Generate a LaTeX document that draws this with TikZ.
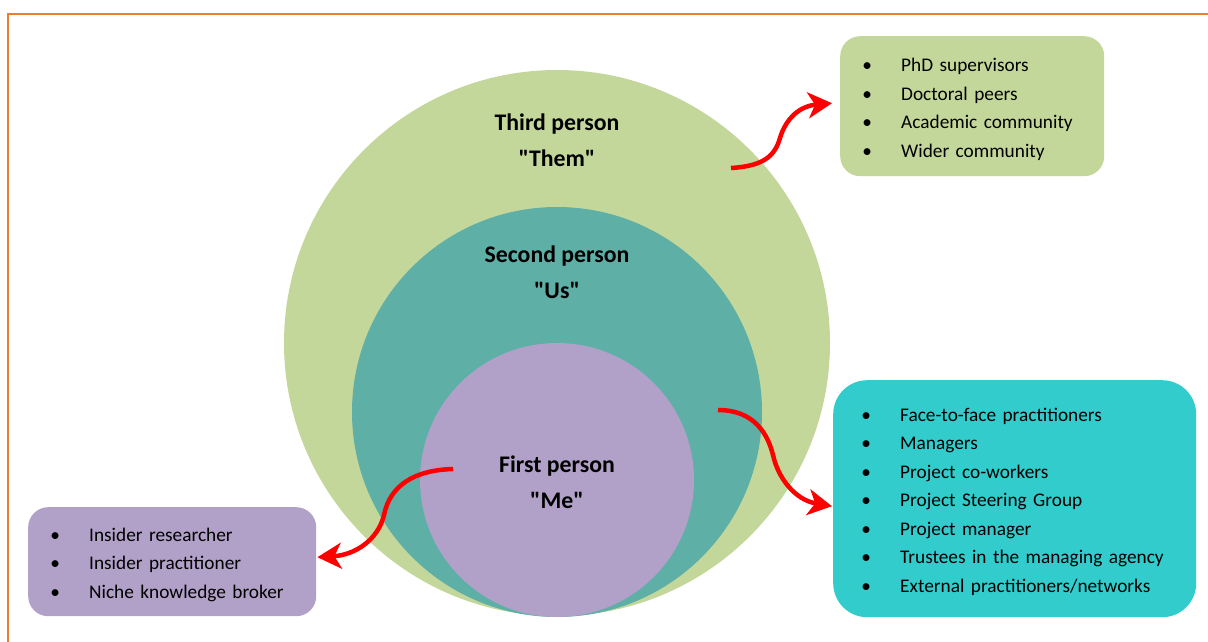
\documentclass[tikz,border=0pt]{standalone}
\usepackage{fontspec}
\setmainfont{Carlito}[Ligatures=TeXOff]
\usetikzlibrary{arrows.meta}

\definecolor{frameorange}{HTML}{ED7D31}
\definecolor{themgreen}{HTML}{C4D79B}
\definecolor{usteal}{HTML}{5EAFA6}
\definecolor{mepurple}{HTML}{B1A0C7}
\definecolor{listcyan}{HTML}{33CCCC}

% one bullet line of a list box
\newcommand{\listline}[2]{\hspace*{#1}\makebox[0pt]{\textbullet}\hspace{34pt}#2}
% extra room above the first line of a list
\newcommand{\listtop}{\rule{0pt}{19.5pt}}

\tikzset{
  ring/.style={circle, draw=none, inner sep=0pt},
  ringtitle/.style={font=\fontsize{23.8}{36}\selectfont\bfseries, align=center},
  listbox/.style={rectangle, draw=none, inner sep=0pt, align=left,
    font=\fontsize{19.3}{28.5}\selectfont},
  wavyarrow/.style={draw=red, line width=4.5pt,
    -{Stealth[length=24pt, width=26pt, inset=7pt]}}
}

\begin{document}
\begin{tikzpicture}[x=1pt, y=-1pt]
\useasboundingbox (0,0) rectangle (1208,642);

% frame lines along the top and the left
\draw[frameorange, line width=2pt] (8,642) -- (8,14.5) -- (1208,14.5);

% nested circles, all touching at the bottom
\node[ring, fill=themgreen, minimum size=546pt] (them) at (557,343) {};
\node[ring, fill=usteal, minimum size=410pt] (us) at (557,412) {};
\node[ring, fill=mepurple, minimum size=274pt] (me) at (557,480) {};

\node[ringtitle] (themtxt) at (557,140) {Third person\\"Them"};
\node[ringtitle] (ustxt) at (557,272) {Second person\\"Us"};
\node[ringtitle] (metxt) at (557,482) {First person\\"Me"};

% list boxes
\node[listbox, fill=themgreen, rounded corners=20pt, anchor=north west,
      text width=264pt, minimum height=140pt] (thembox) at (840,36)
  {\listtop\listline{27pt}{PhD supervisors}\\
   \listline{27pt}{Doctoral peers}\\
   \listline{27pt}{Academic community}\\
   \listline{27pt}{Wider community}};

\node[listbox, fill=listcyan, rounded corners=34pt, anchor=north west,
      text width=363pt, minimum height=237pt] (usbox) at (833,380)
  {\listtop\listline{33pt}{Face-to-face practitioners}\\
   \listline{33pt}{Managers}\\
   \listline{33pt}{Project co-workers}\\
   \listline{33pt}{Project Steering Group}\\
   \listline{33pt}{Project manager}\\
   \listline{33pt}{Trustees in the managing agency}\\
   \listline{33pt}{External practitioners/networks}};

\node[listbox, fill=mepurple, rounded corners=20pt, anchor=north west,
      text width=288pt, minimum height=109pt] (mebox) at (28,507)
  {\listtop\listline{27pt}{Insider researcher}\\
   \listline{27pt}{Insider practitioner}\\
   \listline{27pt}{Niche knowledge broker}};

% wavy red connectors
\coordinate (themfrom) at (731,168);
\coordinate (themto) at ([xshift=-8pt, yshift=3pt]thembox.west);
\coordinate (usfrom) at (718,410);
\coordinate (usto) at ([xshift=-1pt, yshift=-7.5pt]usbox.west);
\coordinate (mefrom) at (453,469);
\coordinate (meto) at ([xshift=1pt, yshift=4.5pt]mebox.east);

\draw[wavyarrow] (themfrom) .. controls (765,166) and (775,155) .. (780,138)
  .. controls (786,118) and (800,106) .. (themto);
\draw[wavyarrow] (usfrom) .. controls (755,410) and (768,435) .. (773,455)
  .. controls (778,478) and (795,500) .. (usto);
\draw[wavyarrow] (mefrom) .. controls (415,470) and (390,485) .. (384,515)
  .. controls (378,540) and (355,555) .. (meto);
\end{tikzpicture}
\end{document}
